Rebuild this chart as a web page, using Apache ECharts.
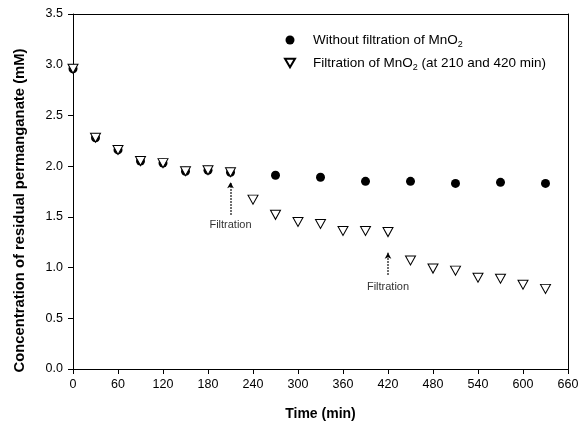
<!DOCTYPE html>
<html><head><meta charset="utf-8">
<script src="https://cdn.jsdelivr.net/npm/echarts@6/dist/echarts.min.js"></script>
<style>html,body{margin:0;padding:0;background:#fff}#c{width:588px;height:428px}</style>
</head><body><div id="c"></div>
<script>
// Data
var timesFilt = [0,30,60,90,120,150,180,210,240,270,300,330,360,390,420,450,480,510,540,570,600,630];
var valuesFilt = [2.96,2.28,2.16,2.05,2.03,1.95,1.96,1.94,1.67,1.52,1.45,1.43,1.36,1.36,1.35,1.07,0.99,0.97,0.90,0.89,0.83,0.79];
var timesNoFilt = [0,30,60,90,120,150,180,210,270,330,390,450,510,570,630];
var valuesNoFilt = [2.96,2.28,2.16,2.05,2.03,1.95,1.96,1.94,1.91,1.89,1.85,1.85,1.83,1.84,1.83];
var filtrationTimes = [210, 420];
var arrowTop = [1.84, 1.145];
var arrowBottom = [1.52, 0.93];
var labelY = [1.42, 0.81];
var xTicks = [0,60,120,180,240,300,360,420,480,540,600,660];
var yTicks = [0,0.5,1.0,1.5,2.0,2.5,3.0,3.5];

var chart = echarts.init(document.getElementById('c'));
var font = 'Liberation Sans, Arial, sans-serif';
var triPath = 'path://M0,0 L10,0 L5,8.66 Z';

function pairs(xs, ys){ return xs.map(function(x,i){ return [x, ys[i]]; }); }

var markLines = filtrationTimes.map(function(t,i){
  return [{coord:[t, arrowBottom[i]]},{coord:[t, arrowTop[i]]}];
});
var markPoints = filtrationTimes.map(function(t,i){
  return {coord:[t, labelY[i]], value:'Filtration'};
});

chart.setOption({
  animation:false,
  textStyle:{fontFamily:font},
  grid:{left:73, right:20, top:14, bottom:59},
  legend:{
    left:279, top:28, orient:'vertical', itemGap:7, itemWidth:10, itemHeight:9,
    textStyle:{fontFamily:font, fontSize:13.5, color:'#000', padding:[0,0,0,13],
      rich:{n:{fontFamily:font,fontSize:13.5,color:'#000',lineHeight:17}, s:{fontFamily:font,fontSize:9,color:'#000',padding:[9,0,0,0]}}},
    formatter:function(name){
      if(name==='a') return '{n|Without filtration of MnO}{s|2}';
      return '{n|Filtration of MnO}{s|2}{n| (at 210 and 420 min)}';
    },
    data:['a','b']
  },
  xAxis:[{
    type:'value', min:0, max:660, interval:60,
    name:'Time (min)', nameLocation:'middle', nameGap:38,
    nameTextStyle:{fontFamily:font, fontSize:14, fontWeight:'bold', color:'#000'},
    axisLine:{lineStyle:{color:'#000', width:1}},
    axisTick:{show:true, inside:false, length:5, lineStyle:{color:'#000'}},
    axisLabel:{fontFamily:font, fontSize:12.5, color:'#000', margin:9},
    splitLine:{show:false}
  },{
    type:'value', position:'top', min:0, max:660, interval:60,
    axisLine:{show:true, onZero:false, lineStyle:{color:'#000'}},
    axisTick:{show:false}, axisLabel:{show:false}, splitLine:{show:false}
  }],
  yAxis:[{
    type:'value', min:0, max:3.5, interval:0.5,
    name:'Concentration of residual permanganate (mM)', nameLocation:'middle', nameGap:46,
    nameTextStyle:{fontFamily:font, fontSize:14.8, fontWeight:'bold', color:'#000', padding:[0,38,0,0]},
    axisLine:{show:true, lineStyle:{color:'#000'}},
    axisTick:{show:true, inside:false, length:5, lineStyle:{color:'#000'}},
    axisLabel:{fontFamily:font, fontSize:12.5, color:'#000', margin:10, formatter:function(v){return v.toFixed(1);}},
    splitLine:{show:false}
  },{
    type:'value', position:'right', min:0, max:3.5, interval:0.5,
    axisLine:{show:true, onZero:false, lineStyle:{color:'#000'}},
    axisTick:{show:false}, axisLabel:{show:false}, splitLine:{show:false}
  }],
  series:[{
    name:'a', type:'scatter', symbol:'circle', symbolSize:9, z:2,
    itemStyle:{color:'#000', opacity:1},
    data:pairs(timesNoFilt, valuesNoFilt)
  },{
    name:'b', type:'scatter', symbol:triPath, symbolSize:[10,9], z:3,
    itemStyle:{color:'#fff', borderColor:'#000', borderWidth:1, opacity:1},
    data:pairs(timesFilt, valuesFilt),
    markLine:{
      silent:true, symbol:['none','arrow'], symbolSize:[5,6],
      label:{show:false},
      lineStyle:{color:'#000', type:[1.5,1.5], width:1.5},
      data:markLines
    },
    markPoint:{
      silent:true, symbol:'circle', symbolSize:0,
      label:{show:true, position:'inside', formatter:function(p){return p.value;}, fontFamily:font, fontSize:11, color:'#333'},
      data:markPoints
    }
  }]
});
</script></body></html>
